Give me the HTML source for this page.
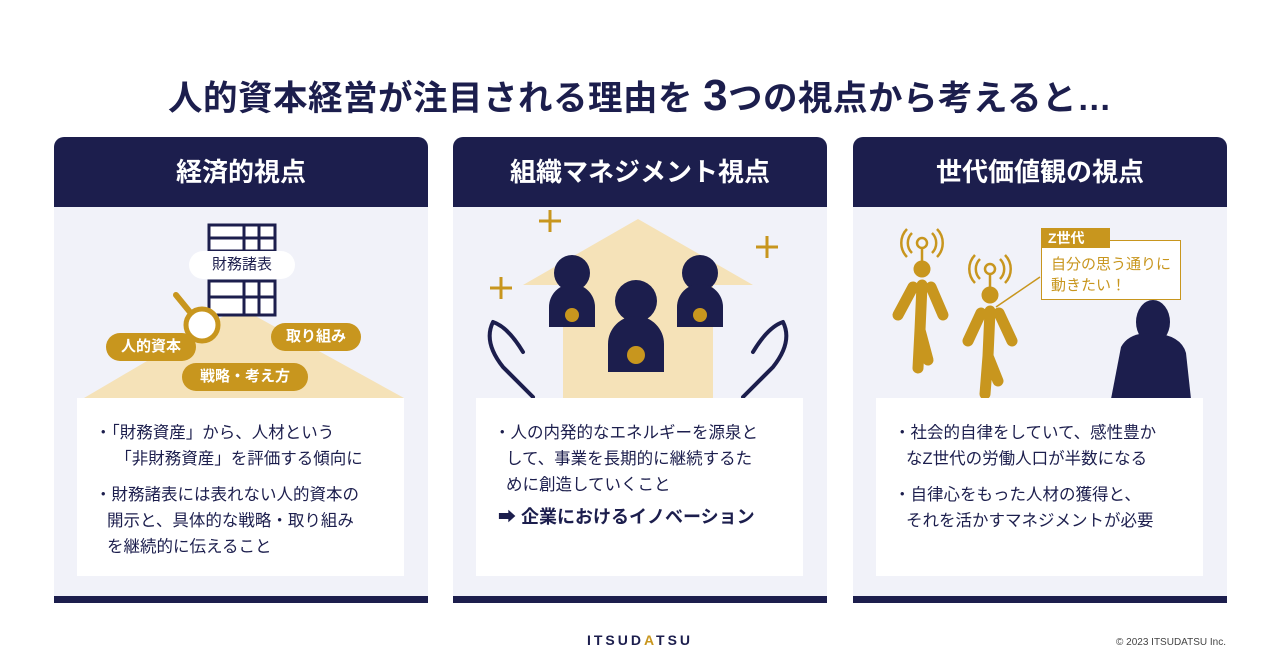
<!DOCTYPE html><html><head><meta charset="utf-8"><style>
body{margin:0;width:1280px;height:670px;background:#fff;position:relative;font-family:"Liberation Sans","Noto Sans CJK JP",sans-serif;overflow:hidden;color:#1c1e4d}
.a{position:absolute}
h1{position:absolute;left:0;width:1280px;top:70px;margin:0;text-align:center;font-size:34.5px;font-weight:700;color:#1c1e4d;letter-spacing:0.5px}
.p{position:absolute;top:137px;width:374px;height:466px;background:#f1f2f9;border-radius:10px 10px 0 0;overflow:hidden}
.hd{position:absolute;left:0;top:0;width:100%;height:70px;background:#1c1e4d;color:#fff;font-size:26px;font-weight:700;text-align:center;line-height:70px}
.bt{position:absolute;left:0;bottom:0;width:100%;height:7px;background:#1c1e4d}
.box{position:absolute;left:23px;top:261px;width:327px;height:178px;background:#fff;font-size:16.5px;line-height:26px;color:#1c1e4d}
.pill{position:absolute;background:#c8961e;color:#fff;font-weight:700;font-size:15px;border-radius:15px;text-align:center;line-height:28px;height:28px}
.li{position:absolute;left:18px;padding-left:12px;text-indent:-12px;width:290px}
</style></head><body>
<h1>人的資本経営が注目される理由を <span style="font-size:44px">3</span>つの視点から考えると…</h1>

<div class="p" style="left:54px">
<div class="hd">経済的視点</div>
<svg class="a" style="left:0;top:70px" width="374" height="192">
<polygon points="30,191 185,100 350,191" fill="#f5e2b8"/>
<g fill="#fff" stroke="#1c1e4d" stroke-width="3"><rect x="155" y="18" width="66" height="26"/><rect x="155" y="74" width="66" height="34"/></g>
<g stroke="#1c1e4d" stroke-width="3"><line x1="190" y1="18" x2="190" y2="44"/><line x1="205" y1="18" x2="205" y2="44"/><line x1="155" y1="31" x2="221" y2="31"/><line x1="190" y1="74" x2="190" y2="108"/><line x1="205" y1="74" x2="205" y2="108"/><line x1="155" y1="90" x2="221" y2="90"/></g>
<rect x="135" y="44" width="106" height="28" rx="14" fill="#fff"/>
<line x1="122" y1="88" x2="140" y2="110" stroke="#c8961e" stroke-width="6" stroke-linecap="round"/>
<circle cx="148" cy="118" r="16" fill="#fff" stroke="#c8961e" stroke-width="5"/>
</svg>
<div class="a" style="left:135px;top:114px;width:106px;text-align:center;font-size:15px;line-height:28px">財務諸表</div>
<div class="pill" style="left:52px;top:196px;width:90px">人的資本</div>
<div class="pill" style="left:217px;top:186px;width:90px">取り組み</div>
<div class="pill" style="left:128px;top:226px;width:126px">戦略・考え方</div>
<div class="box">
<div class="li" style="top:22px">・「財務資産」から、人材という<br>　「非財務資産」を評価する傾向に</div>
<div class="li" style="top:84px">・財務諸表には表れない人的資本の<br>開示と、具体的な戦略・取り組み<br>を継続的に伝えること</div>
</div>
<div class="bt"></div></div>

<div class="p" style="left:453px">
<div class="hd">組織マネジメント視点</div>
<svg class="a" style="left:0;top:70px" width="374" height="192">
<polygon points="70,78 185,12 300,78 260,78 260,191 110,191 110,78" fill="#f5e2b8"/>
<g stroke="#c8961e" stroke-width="3"><line x1="86" y1="14" x2="108" y2="14"/><line x1="97" y1="3" x2="97" y2="25"/><line x1="303" y1="40" x2="325" y2="40"/><line x1="314" y1="29" x2="314" y2="51"/><line x1="37" y1="81" x2="59" y2="81"/><line x1="48" y1="70" x2="48" y2="92"/></g>
<g fill="#1c1e4d"><circle cx="119" cy="66" r="18"/><path d="M96,120 v-20 a23,23 0 0 1 46,0 v20z"/><circle cx="247" cy="66" r="18"/><path d="M224,120 v-20 a23,23 0 0 1 46,0 v20z"/><circle cx="183" cy="94" r="21"/><path d="M155,165 v-28 a28,28 0 0 1 56,0 v28z"/></g>
<g fill="#c8961e"><circle cx="119" cy="108" r="7"/><circle cx="247" cy="108" r="7"/><circle cx="183" cy="148" r="9"/></g>
<g fill="none" stroke="#1c1e4d" stroke-width="4" stroke-linecap="round"><path d="M40,115 q-10,20 10,45 l30,30 M40,115 q15,5 30,30"/><path d="M330,115 q10,20 -10,45 l-30,30 M330,115 q-15,5 -30,30"/></g>
</svg>
<div class="box">
<div class="li" style="top:22px">・人の内発的なエネルギーを源泉と<br>して、事業を長期的に継続するた<br>めに創造していくこと</div>
<div class="a" style="left:22px;top:106px;font-size:18px;font-weight:700">➡ 企業におけるイノベーション</div>
</div>
<div class="bt"></div></div>

<div class="p" style="left:853px">
<div class="hd">世代価値観の視点</div>
<svg class="a" style="left:0;top:70px" width="374" height="192">
<g fill="#c8961e" stroke="#c8961e"><circle cx="69" cy="62" r="8"/><circle cx="137" cy="88" r="8"/></g>
<g fill="none" stroke="#c8961e" stroke-width="2.5"><circle cx="69" cy="36" r="5"/><line x1="69" y1="41" x2="69" y2="55"/><path d="M59,26 a14,14 0 0 0 0,20 M79,26 a14,14 0 0 1 0,20 M54,22 a20,20 0 0 0 0,28 M84,22 a20,20 0 0 1 0,28"/><circle cx="137" cy="62" r="5"/><line x1="137" y1="67" x2="137" y2="81"/><path d="M127,52 a14,14 0 0 0 0,20 M147,52 a14,14 0 0 1 0,20 M122,48 a20,20 0 0 0 0,28 M152,48 a20,20 0 0 1 0,28"/></g>
<g stroke="#c8961e" stroke-width="11" stroke-linecap="round" fill="none"><path d="M69,78 l-2,45 l-2,38 M67,123 l8,30 M60,80 l-15,28 M78,80 l12,28"/><path d="M137,104 l-2,45 l-3,38 M135,149 l10,25 M128,106 l-13,28 M146,106 l13,28"/></g>
<line x1="143" y1="100" x2="187" y2="70" stroke="#c8961e" stroke-width="1.5"/>
<g fill="#1c1e4d"><ellipse cx="300" cy="115" rx="17" ry="22"/><path d="M258,192 l10,-52 q8,-15 32,-14 q28,2 33,20 l5,46z"/></g>
</svg>
<div class="a" style="left:188px;top:103px;width:138px;height:58px;border:1.5px solid #c8961e;background:#fff"></div>
<div class="a" style="left:188px;top:91px;width:62px;height:20px;background:#c8961e;color:#fff;font-weight:700;font-size:14px;line-height:20px;padding-left:7px">Z世代</div>
<div class="a" style="left:198px;top:117px;font-size:15px;line-height:21px;color:#c8961e">自分の思う通りに<br>動きたい！</div>
<div class="box">
<div class="li" style="top:22px">・社会的自律をしていて、感性豊か<br>なZ世代の労働人口が半数になる</div>
<div class="li" style="top:84px">・自律心をもった人材の獲得と、<br>それを活かすマネジメントが必要</div>
</div>
<div class="bt"></div></div>

<div class="a" style="left:0;width:1280px;top:632px;text-align:center;font-size:14px;letter-spacing:3px;font-weight:700;color:#1c1e4d">ITSUD<span style="color:#c8961e">A</span>TSU</div>
<div class="a" style="right:54px;top:637px;font-size:10px;color:#444">© 2023 ITSUDATSU Inc.</div>
</body></html>
